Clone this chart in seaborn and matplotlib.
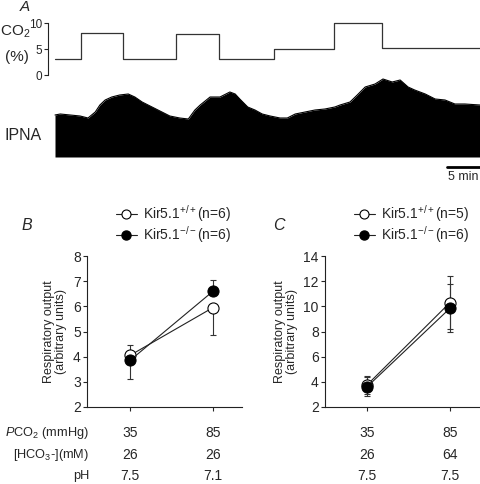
import numpy as np
import pandas as pd
import matplotlib
matplotlib.use('Agg')
import matplotlib.pyplot as plt
import matplotlib.transforms as mtransforms
from matplotlib.lines import Line2D
import seaborn as sns

# ---- panel A: CO2 steps (time in min, CO2 in %)
co2_time = [0, 3.9, 10.3, 18.3, 24.8, 33.2, 42.3, 49.5, 64.4]
co2_level = [3.1, 8.0, 3.1, 7.9, 3.1, 5.0, 10.0, 5.1, 5.1]

# IPNA envelope (arbitrary units)
ipna_time = [0, 0.8, 2.3, 3.8, 5.0, 6.1, 6.8, 7.6, 8.6, 9.8, 11.1, 12.1, 13.2,
             14.4, 15.9, 17.4, 18.9, 20.2, 21.2, 22.0, 23.5, 25.0, 26.5, 27.3,
             28.0, 29.2, 30.3, 31.4, 32.6, 34.1, 35.2, 36.4, 37.9, 39.4, 40.9,
             42.4, 43.2, 44.7, 45.8, 47.0, 48.5, 49.7, 51.1, 52.3, 53.5, 54.5,
             56.1, 57.6, 59.1, 60.6, 62.1, 64.4]
ipna_amp = [42, 43, 42, 41, 39, 45, 52, 57, 60, 62, 63, 60, 55,
            51, 46, 41, 39, 38, 47, 52, 60, 60, 65, 63,
            58, 50, 47, 43, 41, 39, 39, 43, 45, 47, 48,
            50, 52, 55, 62, 70, 73, 78, 75, 77, 70, 67,
            63, 58, 57, 53, 53, 52]

# ---- panels B and C: respiratory output (mean, error)
conditions = [0, 1]
b_wt = [4.05, 5.95]
b_wt_err = [[0.0, 1.07], [0.42, 0.0]]   # [lower, upper]
b_ko = [3.85, 6.60]
b_ko_err = [[0.75, 0.0], [0.0, 0.43]]
c_wt = [3.75, 10.30]
c_wt_err = [[0.70, 2.10], [0.70, 2.10]]
c_ko = [3.60, 9.85]
c_ko_err = [[0.75, 1.90], [0.75, 1.90]]

row_labels = [r'$\it{P}$CO$_2$ (mmHg)', r'[HCO$_3$-](mM)', 'pH']
b_rows = [['35', '85'], ['26', '26'], ['7.5', '7.1']]
c_rows = [['35', '85'], ['26', '64'], ['7.5', '7.5']]

sns.set_style('ticks')
plt.rcParams['font.family'] = ['Liberation Sans', 'DejaVu Sans']
plt.rcParams['mathtext.fontset'] = 'custom'
plt.rcParams['mathtext.rm'] = 'Liberation Sans'
plt.rcParams['mathtext.it'] = 'Liberation Sans:italic'
plt.rcParams['axes.linewidth'] = 0.8
plt.rcParams['axes.edgecolor'] = '#222222'

W, H = 480, 484
fig = plt.figure(figsize=(W / 100, H / 100), dpi=100)


def px_axes(left, top, right, bottom):
    # axes from pixel box (origin top-left)
    return fig.add_axes([left / W, 1 - bottom / H, (right - left) / W, (bottom - top) / H])


t_left = -7 / 6.6

# CO2 trace
ax_co2 = px_axes(48, 23, 480, 75)
co2_df = pd.DataFrame({'time': co2_time, 'co2': co2_level})
sns.lineplot(data=co2_df, x='time', y='co2', ax=ax_co2, drawstyle='steps-post',
             color='#333333', lw=0.9)
ax_co2.set_xlim(t_left, 64.4)
ax_co2.set_ylim(0, 10)
ax_co2.set_yticks([0, 5, 10])
ax_co2.set_xticks([])
ax_co2.set_xlabel('')
ax_co2.set_ylabel('')
ax_co2.tick_params(axis='y', labelsize=8.5, length=3, width=0.8, pad=1)
sns.despine(ax=ax_co2, bottom=True)
for ln in ax_co2.lines:
    ln.set_clip_on(False)

fig.text(25 / W, 1 - 7 / H, 'A', fontsize=11, style='italic', ha='center', va='center')
fig.text(15 / W, 1 - 32 / H, r'CO$_2$', fontsize=11, ha='center', va='center')
fig.text(17 / W, 1 - 57 / H, '(%)', fontsize=11, ha='center', va='center')

# IPNA envelope
ax_ip = px_axes(48, 77, 480, 157)
ipna_df = pd.DataFrame({'time': ipna_time, 'amp': ipna_amp})
sns.lineplot(data=ipna_df, x='time', y='amp', ax=ax_ip, color='black', lw=0.8)
ax_ip.fill_between(ipna_df['time'], 0, ipna_df['amp'], color='black', lw=0)
ax_ip.set_xlim(t_left, 64.4)
ax_ip.set_ylim(0, 80)
ax_ip.axis('off')
ax_ip.plot([59.4, 64.4], [-10, -10], color='black', lw=2, clip_on=False)
ax_ip.text(61.9, -14, '5 min', fontsize=9, ha='center', va='top')
fig.text(23 / W, 1 - 135 / H, 'IPNA', fontsize=11.5, ha='center', va='center')


def resp_panel(left, right, ylim, yticks, wt, wt_err, ko, ko_err, rows, right_lim):
    ax = px_axes(left, 256, right, 407)
    ax.set_xlim(-(left_pos[left] - left) / 83, right_lim)
    ax.set_ylim(*ylim)
    ax.errorbar(conditions, wt, yerr=wt_err, fmt='none', ecolor='#333333',
                elinewidth=0.8, capsize=2.5, capthick=0.8, zorder=1)
    ax.errorbar(conditions, ko, yerr=ko_err, fmt='none', ecolor='#333333',
                elinewidth=0.8, capsize=2.5, capthick=0.8, zorder=1)
    sns.lineplot(x=conditions, y=wt, ax=ax, color='#222222', lw=0.8, marker='o',
                 markersize=8, markerfacecolor='white', markeredgecolor='black',
                 markeredgewidth=0.8, zorder=2)
    sns.lineplot(x=conditions, y=ko, ax=ax, color='#222222', lw=0.8, marker='o',
                 markersize=8, markerfacecolor='black', markeredgecolor='black',
                 zorder=3)
    ax.set_xticks(conditions)
    ax.set_xticklabels([])
    ax.set_yticks(yticks)
    ax.tick_params(axis='both', labelsize=10, length=3, width=0.8, pad=1.5)
    ax.set_ylabel('Respiratory output\n(arbitrary units)', fontsize=9,
                  labelpad=4, linespacing=1.0)
    sns.despine(ax=ax)
    for sp in ax.spines.values():
        sp.set_clip_on(False)
    tr = mtransforms.blended_transform_factory(ax.transData, fig.transFigure)
    for ys, vals in zip([433, 455, 476], rows):
        for xp, v in zip(conditions, vals):
            ax.text(xp, 1 - ys / H, v, transform=tr, fontsize=10, ha='center', va='center')
    return ax


left_pos = {87: 130, 325: 367}
ax_b = resp_panel(87, 242, (2, 8), range(2, 9), b_wt, b_wt_err, b_ko, b_ko_err, b_rows, 1 + 29 / 83)
ax_c = resp_panel(325, 480, (2, 14), range(2, 15, 2), c_wt, c_wt_err, c_ko, c_ko_err, c_rows, 1 + 30 / 83)

for ys, lab in zip([433, 455, 476], row_labels):
    fig.text(89 / W, 1 - ys / H, lab, fontsize=9.2, ha='right', va='center')

fig.text(27 / W, 1 - 225 / H, 'B', fontsize=11.5, style='italic', ha='center', va='center')
fig.text(279 / W, 1 - 225 / H, 'C', fontsize=11.5, style='italic', ha='center', va='center')

# legends, one row each so the spacing can be set exactly
h_wt = Line2D([], [], color='#222222', lw=0.8, marker='o', markersize=6.5,
              markerfacecolor='white', markeredgecolor='black', markeredgewidth=0.8)
h_ko = Line2D([], [], color='#222222', lw=0.8, marker='o', markersize=6.5,
              markerfacecolor='black', markeredgecolor='black')
for x0, n_wt in [(116, 6), (354, 5)]:
    rows_leg = [(h_wt, r'Kir5.1$^{+/+}$(n=%d)' % n_wt, 214),
                (h_ko, r'Kir5.1$^{-/-}$(n=6)', 235)]
    for hd, lab, yc in rows_leg:
        fig.legend([hd], [lab], loc='center left', bbox_to_anchor=(x0 / W, 1 - yc / H),
                   frameon=False, fontsize=10, handlelength=1.5, handletextpad=0.45,
                   borderaxespad=0, borderpad=0)

fig.savefig('out.png', dpi=100)
